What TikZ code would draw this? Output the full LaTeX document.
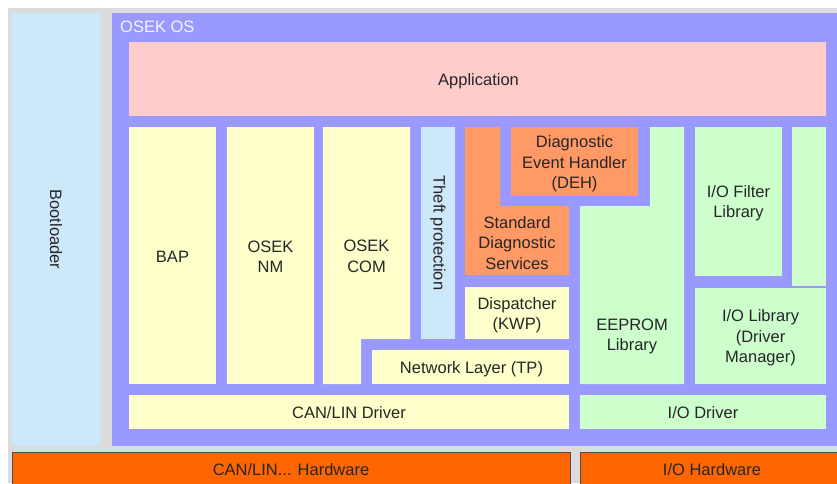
\documentclass[tikz,border=0pt]{standalone}
\usepackage{fontspec}
\setmainfont{Liberation Sans}

\definecolor{bggrey}{HTML}{DCDCDC}
\definecolor{osblue}{HTML}{9999FF}
\definecolor{bootblue}{HTML}{CCE8FA}
\definecolor{apppink}{HTML}{FFCCCC}
\definecolor{stackyellow}{HTML}{FFFFCC}
\definecolor{diagorange}{HTML}{FF9966}
\definecolor{iogreen}{HTML}{CCFFCC}
\definecolor{hworange}{HTML}{FF6600}

\tikzset{
  lbl/.style={font=\fontsize{16.5}{20.5}\selectfont, align=center, inner sep=0pt, text=black!85},
  hw/.style={fill=hworange, draw=black!70, line width=1pt}
}

\begin{document}
\begin{tikzpicture}[x=1pt, y=-1pt]
\useasboundingbox (0,0) rectangle (837,483);
\clip (0,0) rectangle (837,483);

% grey backdrop
\fill[white] (0,0) rectangle (837,483);
\fill[bggrey] (8,8) rectangle (837,483);

% bootloader
\fill[bootblue] (12,13) rectangle (100,446);
\node[lbl, rotate=-90] (boot) at (56,229.5) {Bootloader};

% OSEK OS frame
\fill[osblue] (112,13) rectangle (837,446);
\node[lbl, anchor=west, text=white!90!osblue] (os) at (120,27) {OSEK OS};

% application
\fill[apppink] (129,42) rectangle (826,116);
\node[lbl] (app) at (478.5,81.5) {Application};

% communication stack
\fill[stackyellow] (129,127) rectangle (216,384);
\node[lbl] (bap) at (172.5,256.5) {BAP};
\fill[stackyellow] (227,127) rectangle (314,384);
\node[lbl] (nm) at (270.5,256.5) {OSEK\\NM};
\fill[stackyellow] (323,127) -- (410,127) -- (410,339) -- (361,339)
  -- (361,384) -- (323,384) -- cycle;
\node[lbl] (com) at (366.5,256.5) {OSEK\\COM};
\fill[stackyellow] (372,350) rectangle (569,384);
\node[lbl] (tp) at (471.5,369.5) {Network Layer (TP)};
\fill[stackyellow] (129,395) rectangle (569,429);
\node[lbl] (canlin) at (349,413) {CAN/LIN Driver};

% theft protection
\fill[bootblue] (421,127) rectangle (455,339);
\node[lbl, rotate=-90] (theft) at (438,233) {Theft protection};

% diagnostics
\fill[diagorange] (465,127) -- (500,127) -- (500,206) -- (569,206)
  -- (569,275) -- (465,275) -- cycle;
\node[lbl] (uds) at (517,243) {Standard\\Diagnostic\\Services};
\fill[diagorange] (511,127) rectangle (638,196);
\node[lbl] (deh) at (574.5,164) {Diagnostic\\Event Handler\\(DEH)};
\fill[stackyellow] (465,287) rectangle (569,339);
\node[lbl] (kwp) at (517,315) {Dispatcher\\(KWP)};

% I/O side
\fill[iogreen] (650,127) -- (684,127) -- (684,384) -- (580,384)
  -- (580,206) -- (650,206) -- cycle;
\node[lbl] (eeprom) at (632,336.5) {EEPROM\\Library};
\fill[iogreen] (695,127) rectangle (782,276);
\node[lbl] (filter) at (738.5,203) {I/O Filter\\Library};
\fill[iogreen] (792,127) rectangle (826,286);
\fill[iogreen] (695,288) rectangle (826,384);
\node[lbl] (iolib) at (760.5,338) {I/O Library\\(Driver\\Manager)};
\fill[iogreen] (580,395) rectangle (826,429);
\node[lbl] (iodrv) at (703,413) {I/O Driver};

% hardware
\filldraw[hw] (12,452) rectangle (570,495);
\node[lbl] (canhw) at (291,470) {CAN/LIN... Hardware};
\filldraw[hw] (580,452) rectangle (850,495);
\node[lbl] (iohw) at (712,470) {I/O Hardware};

\end{tikzpicture}
\end{document}
